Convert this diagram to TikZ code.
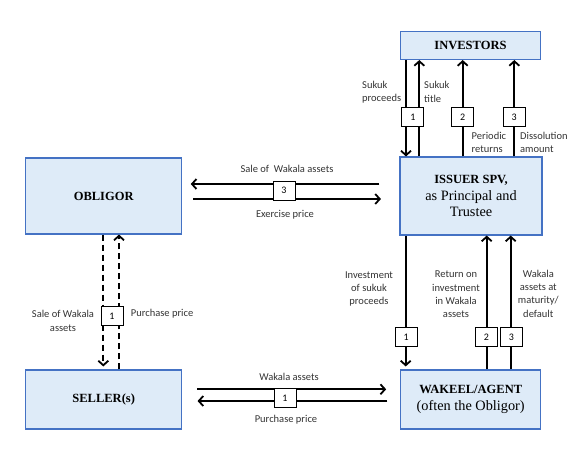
\documentclass[tikz,border=0pt]{standalone}
\usepackage{fontspec}
\setmainfont{Carlito}
\newfontfamily\boxfont{Liberation Serif}
\usetikzlibrary{arrows.meta}
\definecolor{boxfill}{HTML}{DEEBF8}
\definecolor{boxline}{HTML}{4472C4}
\definecolor{lbl}{HTML}{333333}
\newcommand\regline{\fontsize{14.3}{16}\selectfont\mdseries}
\begin{document}
\begin{tikzpicture}[x=1pt,y=-1pt,
  entity/.style={draw=boxline,fill=boxfill,line width=1.1pt,inner sep=0pt,align=center,
    font=\boxfont\fontsize{12.5}{16.3}\selectfont},
  arr/.style={line width=2pt,-{Straight Barb[length=4.5pt,width=10pt,line width=1.8pt]}},
  dashedarr/.style={arr,dash pattern=on 6pt off 4pt},
  num/.style={draw,fill=white,line width=1pt,minimum width=22pt,minimum height=19pt,inner sep=0pt,
    font=\fontsize{10}{12}\selectfont},
  lab/.style={text=lbl,inner sep=0pt,font=\fontsize{10.5}{13.3}\selectfont},
]
\useasboundingbox (0,0) rectangle (583,450);
% entities
\node[entity,minimum width=140pt,minimum height=28pt] (inv) at (470.5,45.5) {\bfseries INVESTORS};
\node[entity,minimum width=142pt,minimum height=78pt] (iss) at (471,196) {\bfseries ISSUER SPV,\\\regline as Principal and\\\regline Trustee};
\node[entity,minimum width=140pt,minimum height=59pt] (wak) at (470.7,399.5) {\bfseries WAKEEL/AGENT\\[1pt]\regline (often the Obligor)};
\node[entity,minimum width=156pt,minimum height=76pt] (obl) at (103.7,196) {\bfseries OBLIGOR};
\node[entity,minimum width=156pt,minimum height=59pt] (sel) at (103.7,399.5) {\bfseries SELLER(s)};
% x/y guide coordinates
\coordinate (xa) at (406,0);
\coordinate (xb) at (419.3,0);
\coordinate (xc) at (462.7,0);
\coordinate (xd) at (514.3,0);
\coordinate (xe) at (405.7,0);
\coordinate (xf) at (486.7,0);
\coordinate (xg) at (510.7,0);
\coordinate (xh) at (103.3,0);
\coordinate (xi) at (119,0);
\coordinate (ya) at (0,184);
\coordinate (yb) at (0,199);
\coordinate (yc) at (0,389.3);
\coordinate (yd) at (0,401);
% investors <-> issuer
\draw[arr] (inv.south -| xa) -- (iss.north -| xa);
\draw[arr] (iss.north -| xb) -- (inv.south -| xb);
\draw[arr] (iss.north -| xc) -- (inv.south -| xc);
\draw[arr] (iss.north -| xd) -- (inv.south -| xd);
\node[num] (n1a) at (412.8,117) {1};
\node[num] (n2a) at (462.7,117) {2};
\node[num] (n3a) at (514.2,117) {3};
\node[lab,anchor=west,align=left] (l1) at (362,92) {Sukuk\\proceeds};
\node[lab,anchor=west,align=left] (l2) at (424,92) {Sukuk\\title};
\node[lab,anchor=west,align=left] (l3) at (471.5,142.5) {Periodic\\returns};
\node[lab,anchor=west,align=left] (l4) at (520,142.5) {Dissolution\\amount};
% obligor <-> issuer
\draw[arr,shorten <=20pt,shorten >=8.5pt] (iss.west |- ya) -- (obl.east |- ya);
\draw[arr,shorten <=11pt,shorten >=18.5pt] (obl.east |- yb) -- (iss.west |- yb);
\node[num] (n3b) at (284,190.7) {3};
\node[lab] (l5) at (287,169) {Sale of~~Wakala assets};
\node[lab] (l6) at (285,215) {Exercise price};
% obligor <-> seller (dashed)
\draw[dashedarr,shorten >=3pt] (obl.south -| xh) -- (sel.north -| xh);
\draw[dashedarr] (sel.north -| xi) -- (obl.south -| xi);
\node[num] (n1b) at (112,316.3) {1};
\node[lab,align=center] (l7) at (63,321) {Sale of Wakala\\assets};
\node[lab,anchor=west] (l8) at (130.7,314) {Purchase price};
% issuer <-> wakeel
\draw[arr,shorten >=3pt] (iss.south -| xe) -- (wak.north -| xe);
\draw[arr] (wak.north -| xf) -- (iss.south -| xf);
\draw[arr] (wak.north -| xg) -- (iss.south -| xg);
\node[num] (n1c) at (406.2,337.2) {1};
\node[num] (n2c) at (486.5,337.2) {2};
\node[num] (n3c) at (511.5,337.2) {3};
\node[lab,align=center] (l9) at (369,289) {Investment\\of sukuk\\proceeds};
\node[lab,align=center] (l10) at (456,294.5) {Return on\\investment\\in Wakala\\assets};
\node[lab,align=center] (l11) at (538.3,293.5) {Wakala\\assets at\\maturity/\\default};
% seller <-> wakeel
\draw[arr,shorten <=15pt,shorten >=14pt] (sel.east |- yc) -- (wak.west |- yc);
\draw[arr,shorten <=12.7pt,shorten >=15.3pt] (wak.west |- yd) -- (sel.east |- yd);
\node[num] (n1d) at (285,398.3) {1};
\node[lab] (l12) at (289,377.3) {Wakala assets};
\node[lab] (l13) at (286,420) {Purchase price};
\end{tikzpicture}
\end{document}
